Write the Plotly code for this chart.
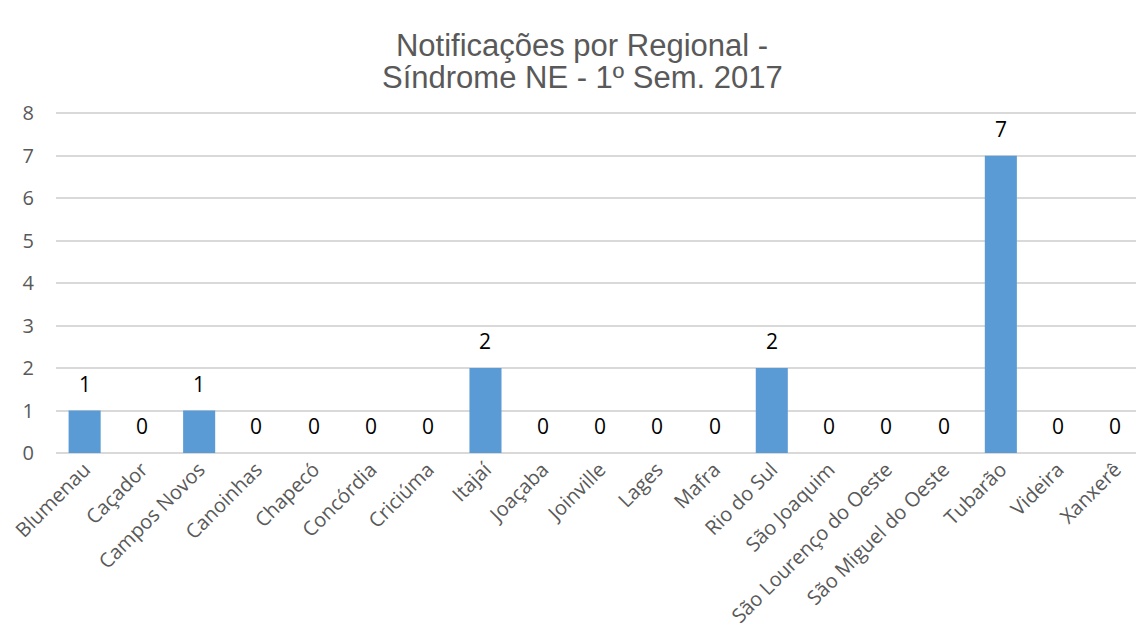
import plotly.graph_objects as go

categories = ["Blumenau", "Caçador", "Campos Novos", "Canoinhas", "Chapecó", "Concórdia",
              "Criciúma", "Itajaí", "Joaçaba", "Joinville", "Lages", "Mafra", "Rio do Sul",
              "São Joaquim", "São Lourenço do Oeste", "São Miguel do Oeste", "Tubarão",
              "Videira", "Xanxerê"]
values = [1, 0, 1, 0, 0, 0, 0, 2, 0, 0, 0, 0, 2, 0, 0, 0, 7, 0, 0]
y_ticks = [0, 1, 2, 3, 4, 5, 6, 7, 8]
title_line1 = "Notificações por Regional -"
title_line2 = "Síndrome NE - 1º Sem. 2017"

W, H = 1136, 635          # page body has an 8px margin
L, T, B = 48, 101, 190
PW, PH = W - L, H - T - B

TITLE_FONT = dict(family="Liberation Sans, Arial, sans-serif", size=31, color="#595959")
LABEL_FONT = dict(family="Open Sans, Segoe UI, sans-serif", size=21, color="#000000")

fig = go.Figure(go.Bar(
    x=categories, y=values,
    marker=dict(color="#5B9BD5", line=dict(width=0)),
    cliponaxis=False,
))

annotations = [dict(
    text=title_line2, xref="paper", yref="paper",
    x=(574 - L) / PW, y=(T + PH - 69) / PH, xanchor="center", yanchor="middle",
    showarrow=False, font=TITLE_FONT,
)]
for c, v in zip(categories, values):
    annotations.append(dict(
        x=c, y=v, xref="x", yref="y", text=str(v), showarrow=False,
        xanchor="center", yanchor="middle", yshift=27, font=LABEL_FONT,
    ))

fig.update_layout(
    width=W, height=H,
    paper_bgcolor="white", plot_bgcolor="white",
    margin=dict(l=L, r=0, t=T, b=B, autoexpand=False),
    bargap=0.44,
    showlegend=False,
    title=dict(
        text=title_line1,
        x=574 / W, xanchor="center", y=1 - 37 / H, yanchor="middle", yref="container",
        font=TITLE_FONT,
    ),
    annotations=annotations,
    font=dict(family="Open Sans, Segoe UI, sans-serif", color="#595959"),
)
fig.update_xaxes(
    tickangle=-45, tickfont=dict(size=20, color="#595959"),
    showgrid=False, showline=False, ticks="", automargin=False,
)
fig.update_yaxes(
    range=[0, 8.1], tickvals=y_ticks, showgrid=True, gridcolor="#D9D9D9", gridwidth=1.5,
    zeroline=True, zerolinecolor="#D9D9D9", zerolinewidth=1.5,
    tickfont=dict(size=20, color="#595959"), ticks="", ticklabelstandoff=21, automargin=False,
)

fig.write_html("out.html")
